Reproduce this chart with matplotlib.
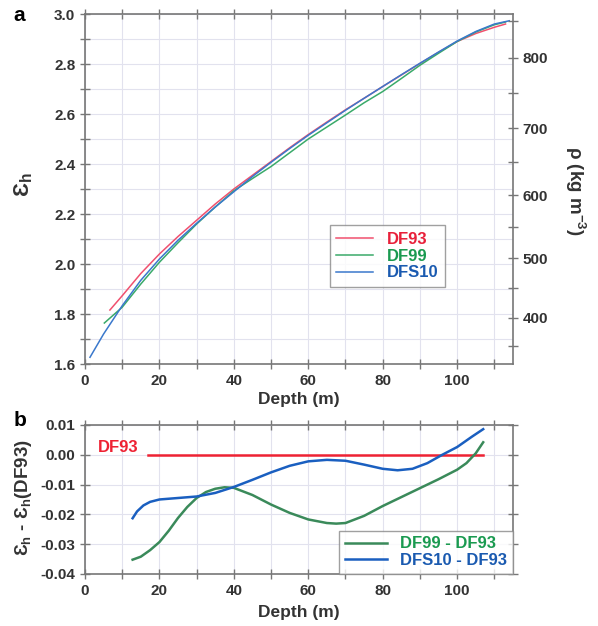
import numpy as np
import matplotlib.pyplot as plt
from matplotlib.ticker import MultipleLocator, FixedLocator, NullFormatter

plt.rcParams['font.family'] = ['Liberation Sans', 'DejaVu Sans']
plt.rcParams['font.weight'] = 'bold'

#-----------------------------------------------------------------------------
# panel a: permittivity vs depth

depth_df93 = [6.7, 10, 15, 20, 25, 30, 35, 40, 45, 50, 55, 60, 65, 70, 75, 80,
              85, 90, 95, 100, 105, 110, 113]
eps_df93 = [1.816, 1.873, 1.962, 2.040, 2.110, 2.175, 2.240, 2.300, 2.355, 2.410,
            2.465, 2.518, 2.568, 2.617, 2.663, 2.710, 2.756, 2.802, 2.847, 2.890,
            2.922, 2.947, 2.960]

depth_df99 = [5.2, 10, 15, 20, 25, 30, 35, 40, 45, 50, 55, 60, 65, 70, 75, 80,
              85, 90, 95, 100, 105, 110, 113]
eps_df99 = [1.764, 1.827, 1.920, 2.007, 2.085, 2.160, 2.228, 2.293, 2.342, 2.390,
            2.445, 2.500, 2.548, 2.596, 2.645, 2.690, 2.742, 2.795, 2.843, 2.890,
            2.928, 2.957, 2.968]

depth_dfs10 = [1.35, 5, 10, 15, 20, 25, 30, 35, 40, 45, 50, 55, 60, 65, 70, 75,
               80, 85, 90, 95, 100, 105, 110, 114]
eps_dfs10 = [1.627, 1.720, 1.833, 1.935, 2.020, 2.095, 2.163, 2.228, 2.289, 2.350,
             2.407, 2.462, 2.515, 2.565, 2.615, 2.663, 2.710, 2.757, 2.803, 2.848,
             2.892, 2.930, 2.960, 2.973]

# density ticks on right axis (kg m-3)
rho_major = [400, 500, 600, 700, 800]
rho_minor = [350, 450, 550, 650, 750, 850]

#-----------------------------------------------------------------------------
# panel b: differences to DF93

diff_depth_99 = [12.8, 15, 17.5, 20, 22.5, 25, 27.5, 30, 32.5, 35, 37.5, 40, 45,
                 50, 55, 60, 65, 67.5, 70, 75, 80, 85, 90, 95, 100, 102.5, 105, 107]
diff_99 = [-0.0352, -0.0342, -0.0320, -0.0293, -0.0255, -0.0212, -0.0175, -0.0145,
           -0.0125, -0.0114, -0.0109, -0.0111, -0.0135, -0.0167, -0.0195, -0.0217,
           -0.0229, -0.0231, -0.0229, -0.0205, -0.0172, -0.0142, -0.0112, -0.0082,
           -0.0050, -0.0028, 0.0005, 0.0042]

diff_depth_10 = [12.8, 14, 15.7, 17.5, 20, 25, 30, 35, 40, 45, 50, 55, 60, 65, 70,
                 75, 80, 84, 88, 92, 96, 100, 104, 107]
diff_10 = [-0.0213, -0.0190, -0.0170, -0.0158, -0.0150, -0.0145, -0.0140, -0.0128,
           -0.0108, -0.0084, -0.0059, -0.0037, -0.0022, -0.0017, -0.0020, -0.0033,
           -0.0047, -0.0052, -0.0047, -0.0028, 0.0000, 0.0026, 0.0061, 0.0086]

ref_depth = [17, 107]
ref_diff = [0.0, 0.0]


def rho_to_eps(rho):
    # empirical permittivity / density relation (rho in kg m-3)
    r = np.asarray(rho) / 1000.0
    return 0.986 + 1.698 * r + 0.752 * r ** 2


#-----------------------------------------------------------------------------

spine_col = '#777777'
grid_col = '#e2e2ee'
txt_col = '#333333'
tick_fs = 11

fig = plt.figure(figsize=(5.98, 6.26), dpi=100)
ax = fig.add_axes([0.1421, 0.4185, 0.7157, 0.5591])
ax2 = fig.add_axes([0.1421, 0.0831, 0.7157, 0.2380])


def style(a):
    for s in a.spines.values():
        s.set_color(spine_col)
        s.set_linewidth(1.2)
    a.tick_params(which='both', direction='inout', length=7, width=1.0,
                  color=spine_col, labelsize=tick_fs, labelcolor=txt_col,
                  top=True, right=True)
    a.grid(which='both', color=grid_col, lw=0.8)
    a.set_axisbelow(True)


# panel a
ax.plot(depth_df93, eps_df93, color='#f0506e', lw=1.1, label='DF93')
ax.plot(depth_df99, eps_df99, color='#3aaa6a', lw=1.1, label='DF99')
ax.plot(depth_dfs10, eps_dfs10, color='#3a78cc', lw=1.1, label='DFS10')
ax.set_xlim(0, 115)
ax.set_ylim(1.6, 3.0)
ax.xaxis.set_major_locator(MultipleLocator(20))
ax.xaxis.set_minor_locator(MultipleLocator(10))
ax.yaxis.set_major_locator(MultipleLocator(0.2))
ax.yaxis.set_minor_locator(MultipleLocator(0.1))
style(ax)
ax.tick_params(right=False)

axr = ax.twinx()
axr.set_ylim(1.6, 3.0)
axr.yaxis.set_major_locator(FixedLocator(rho_to_eps(rho_major)))
axr.set_yticklabels([str(r) for r in rho_major])
axr.yaxis.set_minor_locator(FixedLocator(rho_to_eps(rho_minor)))
axr.yaxis.set_minor_formatter(NullFormatter())
for s in axr.spines.values():
    s.set_visible(False)
axr.tick_params(which='both', direction='inout', length=7, width=1.0,
                color=spine_col, labelsize=tick_fs, labelcolor=txt_col)

leg = ax.legend(loc='lower left', bbox_to_anchor=(0.572, 0.22), borderaxespad=0,
                fancybox=False, edgecolor='#888888', fontsize=12,
                handlelength=2.2, labelcolor=['#e8203a', '#1a9a50', '#1a5ab0'],
                borderpad=0.4, labelspacing=0.1)
leg.get_frame().set_linewidth(1.0)

# panel b
ax2.plot(ref_depth, ref_diff, color='#ee2233', lw=1.8)
ax2.plot(diff_depth_99, diff_99, color='#3a8a5a', lw=1.8, label='DF99 - DF93')
ax2.plot(diff_depth_10, diff_10, color='#1a5fc0', lw=1.8, label='DFS10 - DF93')
ax2.set_xlim(0, 115)
ax2.set_ylim(-0.04, 0.01)
ax2.xaxis.set_major_locator(MultipleLocator(20))
ax2.xaxis.set_minor_locator(MultipleLocator(10))
ax2.yaxis.set_major_locator(MultipleLocator(0.01))
ax2.yaxis.set_major_formatter(lambda v, p: '%.2f' % v if abs(v) > 1e-9 else '0.00')
style(ax2)
ax2.text(3.5, 0.0, 'DF93', color='#ee2233', fontsize=12, fontweight='bold',
         va='bottom')

leg2 = ax2.legend(loc='lower right', borderaxespad=0, fancybox=False,
                  edgecolor='#888888', fontsize=12, handlelength=2.5,
                  labelcolor=['#1a9a50', '#1a5ab0'], borderpad=0.35,
                  labelspacing=0.1)
leg2.get_frame().set_linewidth(1.0)

# labels
fig.text(0.022, 0.975, 'a', fontsize=15, fontweight='bold', va='center')
fig.text(0.022, 0.328, 'b', fontsize=15, fontweight='bold', va='center')
fig.text(0.5, 0.362, 'Depth (m)', fontsize=12.5, fontweight='bold', ha='center',
         va='center', color=txt_col)
fig.text(0.5, 0.022, 'Depth (m)', fontsize=12.5, fontweight='bold', ha='center',
         va='center', color=txt_col)
fig.text(0.04, 0.705, 'Ɛ$_\\mathregular{h}$', fontsize=16, rotation=90,
         ha='center', va='center', color=txt_col)
fig.text(0.04, 0.205, 'Ɛ$_\\mathregular{h}$ - Ɛ$_\\mathregular{h}$(DF93)',
         fontsize=13.5, rotation=90, ha='center', va='center', color=txt_col)
fig.text(0.962, 0.695, 'ρ (kg m$^{\\mathregular{-3}}$)', fontsize=13.5,
         fontweight='bold', rotation=270, ha='center', va='center', color=txt_col)

fig.savefig('out.png', dpi=100)
